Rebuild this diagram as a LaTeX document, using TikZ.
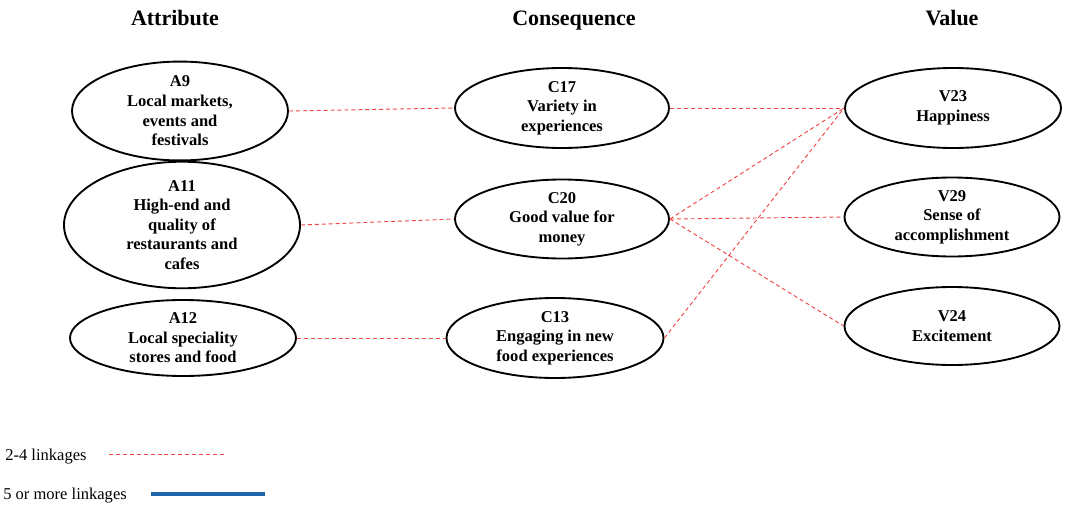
\documentclass[tikz,border=0pt]{standalone}
\usepackage{fontspec}
\setmainfont{Liberation Serif}
\usetikzlibrary{shapes.geometric}
\definecolor{linkred}{RGB}{240,70,70}
\definecolor{strongblue}{RGB}{30,100,170}

\begin{document}
\begin{tikzpicture}[x=0.75pt, y=-0.75pt,
    concept/.style={ellipse, draw, line width=1.4pt, align=center, inner sep=0pt,
        font=\fontsize{12.4pt}{14.7pt}\selectfont\bfseries},
    header/.style={anchor=base, font=\fontsize{16.5pt}{18pt}\selectfont\bfseries},
    link/.style={linkred, dash pattern=on 3pt off 2.2pt, line width=0.7pt},
    strong/.style={strongblue, line width=2.4pt}]
    \useasboundingbox (0,0) rectangle (1065,507);
    % column titles
    \node[header] (attr) at (175,25) {Attribute};
    \node[header] (cons) at (574,25) {Consequence};
    \node[header] (val) at (952,25) {Value};
    % attributes
    \node[concept, minimum width=0.75*216, minimum height=0.75*82] (a9) at (180,111) {A9\\Local markets,\\events and\\festivals};
    \node[concept, minimum width=0.75*236, minimum height=0.75*99] (a11) at (182,225) {A11\\High-end and\\quality of\\restaurants and\\cafes};
    \node[concept, minimum width=0.75*226, minimum height=0.75*76] (a12) at (183,338) {A12\\Local speciality\\stores and food};
    % consequences
    \node[concept, minimum width=0.75*214, minimum height=0.75*80] (c17) at (562,108) {C17\\Variety in\\experiences};
    \node[concept, minimum width=0.75*214, minimum height=0.75*79] (c20) at (562,219) {C20\\Good value for\\money};
    \node[concept, minimum width=0.75*217, minimum height=0.75*80] (c13) at (555,338) {C13\\Engaging in new\\food experiences};
    % values
    \node[concept, minimum width=0.75*216, minimum height=0.75*80] (v23) at (953,108) {V23\\Happiness};
    \node[concept, minimum width=0.75*215, minimum height=0.75*79] (v29) at (952,217) {V29\\Sense of\\accomplishment};
    \node[concept, minimum width=0.75*215, minimum height=0.75*78] (v24) at (952,326) {V24\\Excitement};
    % linkages
    \draw[link] (a9.east) -- (c17.west);
    \draw[link] (a11.east) -- (c20.west);
    \draw[link] (a12.east) -- (c13.west);
    \draw[link] (c17.east) -- (v23.west);
    \draw[link] (c20.east) -- (v23.west);
    \draw[link] (c20.east) -- (v29.west);
    \draw[link] (c20.east) -- (v24.west);
    \draw[link] (c13.east) -- (v23.west);
    % legend
    \node[anchor=west, inner sep=0pt, font=\fontsize{12.4pt}{14pt}\selectfont] (leg1) at (5,457) {2-4 linkages};
    \coordinate (leg1a) at (109,454);
    \coordinate (leg1b) at (225,454);
    \draw[link] (leg1a) -- (leg1b);
    \node[anchor=west, inner sep=0pt, font=\fontsize{12.4pt}{14pt}\selectfont] (leg2) at (3,496) {5 or more linkages};
    \coordinate (leg2a) at (151,494);
    \coordinate (leg2b) at (265,494);
    \draw[strong] (leg2a) -- (leg2b);
\end{tikzpicture}
\end{document}
